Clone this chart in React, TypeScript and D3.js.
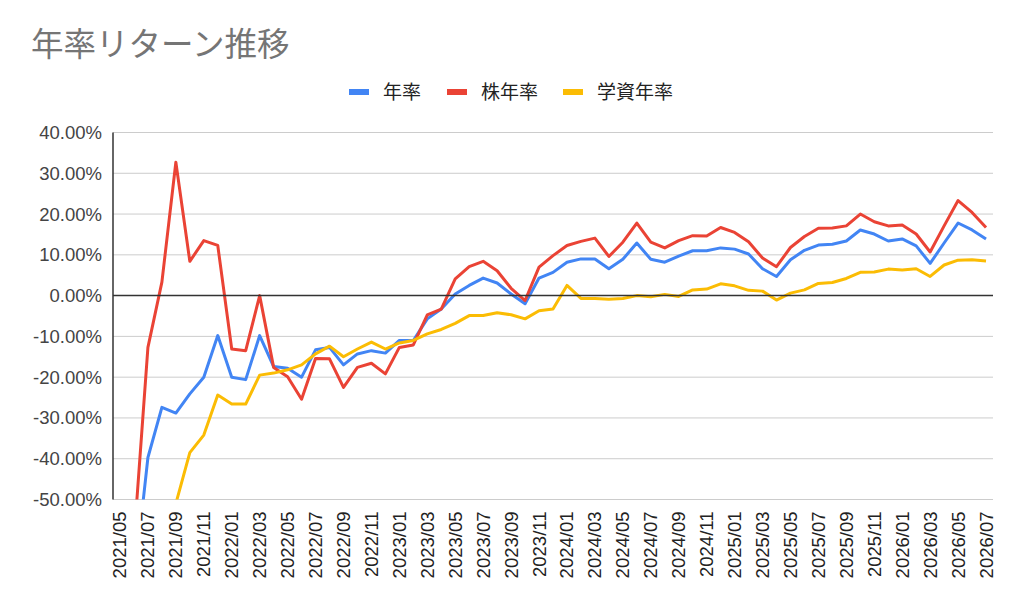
import React, { useEffect, useRef } from 'react';
import * as d3 from 'd3';

// months 2021/05 .. 2026/07
const months: string[] = d3
  .timeMonths(new Date(2021, 4, 1), new Date(2026, 7, 1))
  .map((d) => d3.timeFormat('%Y/%m')(d));

const yTicks = [40, 30, 20, 10, 0, -10, -20, -30, -40, -50];

// 年率
const annual: (number | null)[] = [
  null, -71, -39.7, -27.4, -28.8, -24.1, -20.0, -9.8, -20.0, -20.6,
  -9.8, -17.4, -17.8, -20.0, -13.3, -12.7, -17.0, -14.3, -13.5, -14.1,
  -11.0, -11.0, -5.7, -3.3, 0.4, 2.5, 4.3, 3.1, 0.4, -2.0,
  4.3, 5.7, 8.2, 9.0, 9.0, 6.6, 8.9, 12.9, 8.9, 8.2,
  9.7, 11.0, 11.0, 11.7, 11.4, 10.2, 6.6, 4.7, 8.8, 11.1,
  12.4, 12.6, 13.4, 16.1, 15.1, 13.4, 13.9, 12.2, 7.9, 12.9,
  17.8, 16.1, 13.9,
];

// 株年率
const stock: (number | null)[] = [
  null, -60, -12.7, 3.3, 32.7, 8.4, 13.5, 12.3, -13.1, -13.5,
  0.0, -17.6, -19.9, -25.4, -15.4, -15.5, -22.5, -17.6, -16.6, -19.2,
  -12.7, -12.1, -4.7, -3.3, 4.1, 7.1, 8.4, 6.1, 1.8, -1.2,
  7.0, 9.8, 12.3, 13.3, 14.1, 9.6, 13.1, 17.8, 13.1, 11.7,
  13.5, 14.7, 14.6, 16.7, 15.5, 13.2, 9.2, 7.1, 11.8, 14.5,
  16.5, 16.6, 17.1, 20.0, 18.1, 17.1, 17.3, 15.1, 10.7, 17.1,
  23.3, 20.4, 16.7,
];

// 学資年率
const education: (number | null)[] = [
  null, null, null, -80, -51, -38.5, -34.2, -24.4, -26.6, -26.6,
  -19.5, -19.0, -18.2, -17.0, -14.3, -12.4, -15.0, -13.1, -11.4, -13.1,
  -11.6, -11.0, -9.4, -8.3, -6.8, -4.9, -4.9, -4.2, -4.7, -5.7,
  -3.7, -3.3, 2.5, -0.7, -0.7, -0.9, -0.7, 0.0, -0.3, 0.3,
  -0.2, 1.4, 1.6, 2.9, 2.4, 1.3, 1.1, -1.1, 0.6, 1.4,
  3.0, 3.2, 4.2, 5.7, 5.8, 6.5, 6.3, 6.6, 4.7, 7.5,
  8.7, 8.8, 8.5,
];

const seriesNames = ['年率', '株年率', '学資年率'];
const seriesColors = ['#4285F4', '#EA4335', '#FBBC04'];
const seriesValues = [annual, stock, education];

const W = 1024;
const H = 611;
const latin = '"Liberation Sans", Arial, sans-serif';
const cjk = '"Noto Sans CJK JP", "Noto Sans", sans-serif';

const App: React.FC = () => {
  const svgRef = useRef<SVGSVGElement | null>(null);

  useEffect(() => {
    if (!svgRef.current) return;
    const svg = d3.select(svgRef.current);
    svg.selectAll('*').remove();

    const left = 113;
    const right = 993;
    const top = 132.5;
    const bottom = 499.5;

    const x = d3.scalePoint<string>().domain(months).range([left, right]).padding(0.5);
    const y = d3.scaleLinear().domain([-50, 40]).range([bottom, top]);

    const pct = d3.formatLocale({
      decimal: '.',
      thousands: ',',
      grouping: [3],
      currency: ['$', ''],
      minus: '-',
    }).format('.2f');

    svg.append('rect').attr('width', W).attr('height', H).attr('fill', '#fff');

    // title
    svg
      .append('text')
      .attr('x', 31)
      .attr('y', 56)
      .attr('font-family', cjk)
      .attr('font-size', 32.5)
      .attr('fill', '#757575')
      .text('年率リターン推移');

    // legend
    const legendX = [349, 447, 563];
    seriesNames.forEach((name, i) => {
      const g = svg.append('g').attr('transform', `translate(${legendX[i]},92)`);
      g.append('rect').attr('x', 0).attr('y', -3).attr('width', 20).attr('height', 6).attr('fill', seriesColors[i]);
      g.append('text')
        .attr('x', 34)
        .attr('y', 0)
        .attr('dy', '0.35em')
        .attr('font-family', cjk)
        .attr('font-size', 19)
        .attr('fill', '#222')
        .text(name);
    });

    // grid
    svg
      .append('g')
      .selectAll('line')
      .data(yTicks.filter((t) => t !== 0))
      .enter()
      .append('line')
      .attr('x1', left)
      .attr('x2', right)
      .attr('y1', (d) => y(d))
      .attr('y2', (d) => y(d))
      .attr('stroke', '#cccccc')
      .attr('stroke-width', 1);

    // y labels
    svg
      .append('g')
      .selectAll('text')
      .data(yTicks)
      .enter()
      .append('text')
      .attr('x', 102)
      .attr('y', (d) => y(d))
      .attr('dy', '0.35em')
      .attr('text-anchor', 'end')
      .attr('font-family', latin)
      .attr('font-size', 18.5)
      .attr('fill', '#444')
      .text((d) => `${pct(d)}%`);

    // x labels (every other month)
    svg
      .append('g')
      .selectAll('text')
      .data(months.filter((_, i) => i % 2 === 0))
      .enter()
      .append('text')
      .attr('transform', (d) => `translate(${x(d)},${bottom + 12}) rotate(-90)`)
      .attr('text-anchor', 'end')
      .attr('dy', '0.35em')
      .attr('font-family', latin)
      .attr('font-size', 18.5)
      .attr('fill', '#222')
      .text((d) => d);

    // lines
    svg
      .append('clipPath')
      .attr('id', 'plot-clip')
      .append('rect')
      .attr('x', left)
      .attr('y', top - 10)
      .attr('width', right - left)
      .attr('height', bottom - top + 10);

    const line = d3
      .line<number | null>()
      .defined((d) => d !== null)
      .x((_, i) => x(months[i]) as number)
      .y((d) => y(d as number));

    const lines = svg.append('g').attr('clip-path', 'url(#plot-clip)');
    seriesValues.forEach((vals, i) => {
      lines
        .append('path')
        .datum(vals)
        .attr('fill', 'none')
        .attr('stroke', seriesColors[i])
        .attr('stroke-width', 3)
        .attr('stroke-linejoin', 'round')
        .attr('d', line);
    });

    // zero line and left axis
    svg
      .append('line')
      .attr('x1', left)
      .attr('x2', right)
      .attr('y1', y(0))
      .attr('y2', y(0))
      .attr('stroke', '#333')
      .attr('stroke-width', 1.5);
    svg
      .append('line')
      .attr('x1', left)
      .attr('x2', left)
      .attr('y1', top)
      .attr('y2', bottom)
      .attr('stroke', '#333')
      .attr('stroke-width', 1.5);
  }, []);

  return (
    <div style={{ position: 'absolute', left: 0, top: 0 }}>
      <svg ref={svgRef} width={W} height={H} />
    </div>
  );
};

export default App;
